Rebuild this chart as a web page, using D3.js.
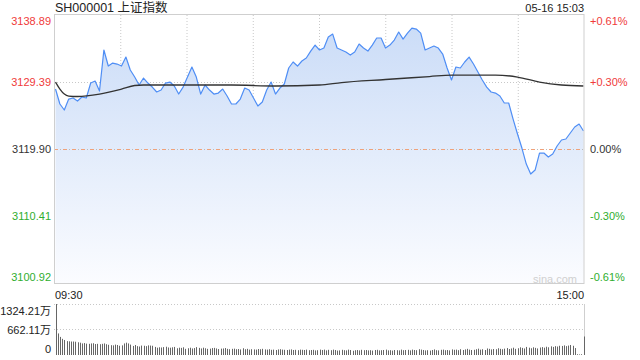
<!DOCTYPE html>
<html>
<head>
<meta charset="utf-8">
<script src="https://cdn.jsdelivr.net/npm/d3@7"></script>
<style>
  html,body{margin:0;padding:0;background:#fff;}
  svg text{font-family:"Liberation Sans",Arial,"Noto Sans CJK SC",sans-serif;}
</style>
</head>
<body>
<div id="chart"></div>
<script>
// 分时数据（每2分钟一个点）
var priceValues = [3128.40,3126.28,3125.43,3126.98,3127.13,3126.70,3127.27,3127.13,3129.25,3129.53,
  3128.12,3133.93,3131.66,3132.08,3131.94,3131.66,3132.93,3131.09,3130.10,3128.97,
  3129.96,3129.25,3128.68,3127.98,3128.26,3129.25,3129.39,3128.83,3127.69,3128.68,
  3130.10,3131.52,3130.10,3127.69,3128.97,3128.26,3127.69,3127.83,3128.40,3127.41,
  3126.28,3126.28,3126.98,3128.54,3128.26,3127.13,3125.99,3126.56,3128.26,3129.39,
  3127.69,3128.54,3129.11,3131.38,3132.23,3131.66,3132.37,3132.79,3133.78,3134.63,
  3133.93,3134.21,3135.77,3136.19,3134.21,3133.93,3133.64,3133.22,3133.64,3134.78,
  3134.21,3133.78,3134.63,3135.63,3135.63,3134.21,3134.63,3135.34,3136.48,3135.48,
  3136.33,3137.04,3136.90,3136.33,3133.93,3134.21,3134.49,3134.21,3133.36,3131.38,
  3129.68,3131.52,3131.38,3132.23,3132.93,3131.94,3130.81,3129.68,3128.68,3127.98,
  3127.83,3127.41,3126.42,3126.42,3124.15,3122.03,3120.04,3117.77,3116.36,3116.92,
  3119.33,3119.33,3118.77,3119.19,3120.33,3121.18,3121.32,3122.17,3123.02,3123.44,
  3122.45];
var priceStep = 2;

// 均价线
var avgMinutes = [0,2,4,6,10,20,30,36,40,60,80,100,120,130,150,170,180,200,210,220,230,240];
var avgValues  = [3129.39,3128.40,3127.69,3127.41,3127.34,3127.69,3128.40,3128.90,3128.97,3128.97,
  3128.97,3128.83,3128.97,3129.32,3129.75,3130.17,3130.38,3130.38,3130.10,3129.39,3128.97,3128.83];

// 成交量（万手，每分钟）
var volValues = [1324,560,470,420,390,360,355,350,350,345,330,
  320,300,310,295,290,300,305,285,290,280,
  290,300,280,265,255,250,270,260,240,250,
  300,320,300,270,235,260,230,220,245,240,
  230,250,245,240,210,190,200,195,205,215,
  195,190,200,210,175,190,185,200,160,175,
  190,170,180,205,185,170,190,175,160,165,
  180,185,170,155,165,170,180,160,150,160,
  165,150,155,145,175,150,160,140,150,145,
  140,155,150,160,145,140,150,135,140,130,
  145,150,140,135,130,140,145,130,135,125,
  140,135,130,140,125,130,135,120,125,140,
  130,140,120,135,125,140,130,115,120,135,
  125,120,140,130,110,125,130,120,135,125,
  130,120,125,115,130,135,120,125,130,140,
  120,125,115,130,125,120,140,125,130,135,
  120,140,130,125,150,140,130,120,125,115,
  130,145,125,120,135,140,125,130,120,145,
  135,140,125,150,130,145,160,140,130,135,
  150,165,140,150,130,170,160,145,155,150,
  175,160,150,165,180,155,170,190,160,175,
  200,185,170,210,190,175,200,185,170,195,
  205,190,215,200,225,210,230,220,240,235,
  250,230,245,260,240,180,20,15,20,480];

var priceTicks = [3100.92,3110.41,3119.90,3129.39,3138.89];
var pctLabels  = ["-0.61%","-0.30%","0.00%","+0.30%","+0.61%"];
var volTicks   = [0,662.11,1324.21];
var volLabels  = ["0","662.11万","1324.21万"];
var timeLabels = ["09:30","15:00"];
var prevClose  = 3119.90;

var W = 640, H = 360;
var red = "#f03a3a", green = "#2fae2f", dark = "#333";

var svg = d3.select("#chart").append("svg")
  .attr("width",W).attr("height",H);

var xGrid = d3.scaleLinear().domain([0,240]).range([54,584]);
var x = d3.scaleLinear().domain([0,240]).range([55.5,583.5]);
var y = d3.scaleLinear().domain([3100.92,3138.89]).range([283,15]);
var yv = d3.scaleLinear().domain([0,1324.21]).range([355,304]);

var defs = svg.append("defs");
var grad = defs.append("linearGradient")
  .attr("id","areaGrad")
  .attr("gradientUnits","userSpaceOnUse")
  .attr("x1",0).attr("y1",15).attr("x2",0).attr("y2",283);
grad.append("stop").attr("offset",0).attr("stop-color","#c9dbf7");
grad.append("stop").attr("offset",1).attr("stop-color","#fbfcff");

// 网格
var gridX = d3.range(30,240,30);
svg.selectAll(".vgrid").data(gridX).enter().append("line")
  .attr("x1",d => xGrid(d)+0.5).attr("x2",d => xGrid(d)+0.5)
  .attr("y1",15).attr("y2",283)
  .attr("stroke","#c8c8c8").attr("stroke-dasharray","1,2");

[priceTicks[1],priceTicks[3]].forEach(function(v){
  svg.append("line")
    .attr("x1",54).attr("x2",584)
    .attr("y1",Math.round(y(v))+0.5).attr("y2",Math.round(y(v))+0.5)
    .attr("stroke","#c8c8c8").attr("stroke-dasharray","1,2");
});

// 面积+价格线
var pts = priceValues.map((v,i) => [i*priceStep, v]);
var area = d3.area().x(d => x(d[0])).y0(283).y1(d => y(d[1]));
var line = d3.line().x(d => x(d[0])).y(d => y(d[1]));

svg.append("path").attr("d",area(pts)).attr("fill","url(#areaGrad)");

// 昨收线
var y0 = Math.round(y(prevClose))+0.5;
svg.append("line")
  .attr("x1",54).attr("x2",584).attr("y1",y0).attr("y2",y0)
  .attr("stroke","#bbb").attr("stroke-dasharray","1,2");
svg.append("line")
  .attr("x1",54).attr("x2",584).attr("y1",y0).attr("y2",y0)
  .attr("stroke","#f0a27a").attr("stroke-dasharray","4,5");

svg.append("path").attr("d",line(pts))
  .attr("fill","none").attr("stroke","#4f8ef5").attr("stroke-width",1.2)
  .attr("stroke-linejoin","round");

var avgPts = avgMinutes.map((m,i) => [m, avgValues[i]]);
svg.append("path")
  .attr("d",d3.line().x(d => x(d[0])).y(d => y(d[1])).curve(d3.curveMonotoneX)(avgPts))
  .attr("fill","none").attr("stroke","#333").attr("stroke-width",1.3);

// 边框
svg.append("rect")
  .attr("x",54.5).attr("y",14.5).attr("width",529.5).attr("height",269)
  .attr("fill","none").attr("stroke","#cfcfcf");

svg.append("text").attr("x",577).attr("y",283)
  .attr("text-anchor","end").attr("font-size",11).attr("fill","#d0d0d0")
  .text("sina.com");

// 左右坐标
function tickColor(v){ return v > prevClose + 0.01 ? red : (v < prevClose - 0.01 ? green : dark); }
function tickShift(i){ return i === 0 ? -6 : (i === priceTicks.length-1 ? 6 : 0); }

var yAxisL = d3.axisLeft(y).tickValues(priceTicks).tickSize(0).tickPadding(3)
  .tickFormat(d3.format(".2f"));
var gl = svg.append("g").attr("transform","translate(54,0)").call(yAxisL);
gl.select(".domain").remove();
gl.selectAll("text")
  .attr("font-size",11)
  .attr("font-family",null)
  .attr("fill",d => tickColor(d))
  .attr("transform",(d,i) => "translate(0," + tickShift(i) + ")");

var yAxisR = d3.axisRight(y).tickValues(priceTicks).tickSize(0).tickPadding(6)
  .tickFormat((d,i) => pctLabels[i]);
var gr = svg.append("g").attr("transform","translate(584,0)").call(yAxisR);
gr.select(".domain").remove();
gr.selectAll("text")
  .attr("font-size",11)
  .attr("fill",d => tickColor(d))
  .attr("transform",(d,i) => "translate(0," + tickShift(i) + ")");

// 标题
svg.append("text").attr("x",55).attr("y",12)
  .attr("font-size",12.5).attr("fill","#222")
  .text("SH000001 上证指数");
svg.append("text").attr("x",584).attr("y",12)
  .attr("text-anchor","end").attr("font-size",11).attr("fill","#222")
  .text("05-16 15:03");

// 时间
svg.append("text").attr("x",55).attr("y",299)
  .attr("font-size",11).attr("fill","#222").text(timeLabels[0]);
svg.append("text").attr("x",584).attr("y",299)
  .attr("text-anchor","end").attr("font-size",11).attr("fill","#222").text(timeLabels[1]);

// 成交量
[volTicks[1],volTicks[2]].forEach(function(v){
  svg.append("line")
    .attr("x1",54).attr("x2",584)
    .attr("y1",Math.round(yv(v))+0.5).attr("y2",Math.round(yv(v))+0.5)
    .attr("stroke","#c8c8c8").attr("stroke-dasharray","1,2");
});
svg.append("line").attr("x1",584.5).attr("x2",584.5).attr("y1",304).attr("y2",355)
  .attr("stroke","#cfcfcf");

svg.selectAll(".vol").data(volValues).enter().append("rect")
  .attr("x",(d,i) => Math.round(x(i)))
  .attr("y",d => yv(d))
  .attr("width",1)
  .attr("height",d => 355 - yv(d))
  .attr("fill","#666");

var volAxis = d3.axisLeft(yv).tickValues(volTicks).tickSize(0).tickPadding(3)
  .tickFormat((d,i) => volLabels[i]);
var gv = svg.append("g").attr("transform","translate(54,0)").call(volAxis);
gv.select(".domain").remove();
gv.selectAll("text")
  .attr("font-size",11).attr("fill","#222")
  .attr("transform",(d,i) => "translate(0," + (i === 0 ? -6 : (i === 2 ? 7 : 0)) + ")");
</script>
</body>
</html>
